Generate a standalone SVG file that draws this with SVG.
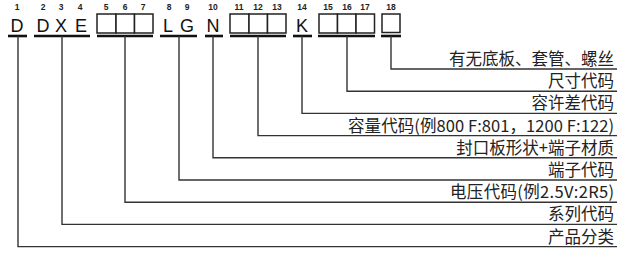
<svg xmlns="http://www.w3.org/2000/svg" width="625" height="257" viewBox="0 0 625 257">
<style>
.num{font-family:"Liberation Sans",Arial,sans-serif;font-size:8.5px;font-weight:bold;fill:#222;text-anchor:middle}
.let{font-family:"Liberation Sans",Arial,sans-serif;font-size:18px;fill:#111;text-anchor:middle}
.box{fill:#fff;stroke:#222;stroke-width:1.5}
.bar{stroke:#111;stroke-width:2.6;fill:none}
.ln{stroke:#333;stroke-width:1.4;fill:none}
.lbl{font-family:"Noto Sans CJK SC","Noto Sans",sans-serif;font-size:16.5px;fill:#222;text-anchor:end}
</style>
<rect width="625" height="257" fill="#fff"/>
<g id="code">
<g id="pos1"><text class="num" x="17" y="10">1</text><text class="let" x="17" y="32">D</text><line class="bar" x1="8" y1="36" x2="27" y2="36"/></g>
<g id="pos2-4"><text class="num" x="43" y="10">2</text><text class="num" x="61" y="10">3</text><text class="num" x="80" y="10">4</text><text class="let" x="43" y="32">D</text><text class="let" x="61" y="32">X</text><text class="let" x="81" y="32">E</text><line class="bar" x1="34" y1="36" x2="90" y2="36"/></g>
<g id="pos5-7"><text class="num" x="106" y="10">5</text><text class="num" x="125" y="10">6</text><text class="num" x="143" y="10">7</text><rect class="box" x="97" y="14" width="19" height="19"/><rect class="box" x="116" y="14" width="18.5" height="19"/><rect class="box" x="134.5" y="14" width="18.5" height="19"/><line class="bar" x1="97" y1="36" x2="153" y2="36"/></g>
<g id="pos8-9"><text class="num" x="169" y="10">8</text><text class="num" x="187" y="10">9</text><text class="let" x="168" y="32">L</text><text class="let" x="187" y="32">G</text><line class="bar" x1="160" y1="36" x2="197" y2="36"/></g>
<g id="pos10"><text class="num" x="213" y="10">10</text><text class="let" x="213" y="32">N</text><line class="bar" x1="205" y1="36" x2="223" y2="36"/></g>
<g id="pos11-13"><text class="num" x="239" y="10">11</text><text class="num" x="258" y="10">12</text><text class="num" x="277" y="10">13</text><rect class="box" x="230" y="14" width="19" height="19"/><rect class="box" x="249" y="14" width="18.5" height="19"/><rect class="box" x="267.5" y="14" width="18.5" height="19"/><line class="bar" x1="230" y1="36" x2="286" y2="36"/></g>
<g id="pos14"><text class="num" x="302" y="10">14</text><text class="let" x="302" y="32">K</text><line class="bar" x1="293" y1="36" x2="312" y2="36"/></g>
<g id="pos15-17"><text class="num" x="328" y="10">15</text><text class="num" x="347" y="10">16</text><text class="num" x="365" y="10">17</text><rect class="box" x="319" y="14" width="18.5" height="19"/><rect class="box" x="337.5" y="14" width="18.5" height="19"/><rect class="box" x="356" y="14" width="18.5" height="19"/><line class="bar" x1="318" y1="36" x2="375" y2="36"/></g>
<g id="pos18"><text class="num" x="391" y="10">18</text><rect class="box" x="382" y="14" width="18" height="18.5"/><line class="bar" x1="381" y1="36" x2="401" y2="36"/></g>
</g>
<g id="connectors">
<polyline class="ln" points="391,36 391,69 617,69"/>
<polyline class="ln" points="347,36 347,91.2 617,91.2"/>
<polyline class="ln" points="302,36 302,113.4 617,113.4"/>
<polyline class="ln" points="258,36 258,135.6 617,135.6"/>
<polyline class="ln" points="213,36 213,157.8 617,157.8"/>
<polyline class="ln" points="179,36 179,180 617,180"/>
<polyline class="ln" points="125,36 125,202.2 617,202.2"/>
<polyline class="ln" points="62,36 62,224.4 617,224.4"/>
<polyline class="ln" points="18,36 18,246.6 617,246.6"/>
</g>
<g id="labels">
<text class="lbl" x="614" y="65">有无底板、套管、螺丝</text>
<text class="lbl" x="614" y="87.2">尺寸代码</text>
<text class="lbl" x="614" y="109.4">容许差代码</text>
<text class="lbl" x="614" y="131.6" textLength="266" lengthAdjust="spacing">容量代码(例800 F:801，1200 F:122)</text>
<text class="lbl" x="614" y="153.8">封口板形状+端子材质</text>
<text class="lbl" x="614" y="176">端子代码</text>
<text class="lbl" x="614" y="198.2" textLength="164" lengthAdjust="spacing">电压代码(例2.5V:2R5)</text>
<text class="lbl" x="614" y="220.4">系列代码</text>
<text class="lbl" x="614" y="242.6">产品分类</text>
</g>
</svg>
